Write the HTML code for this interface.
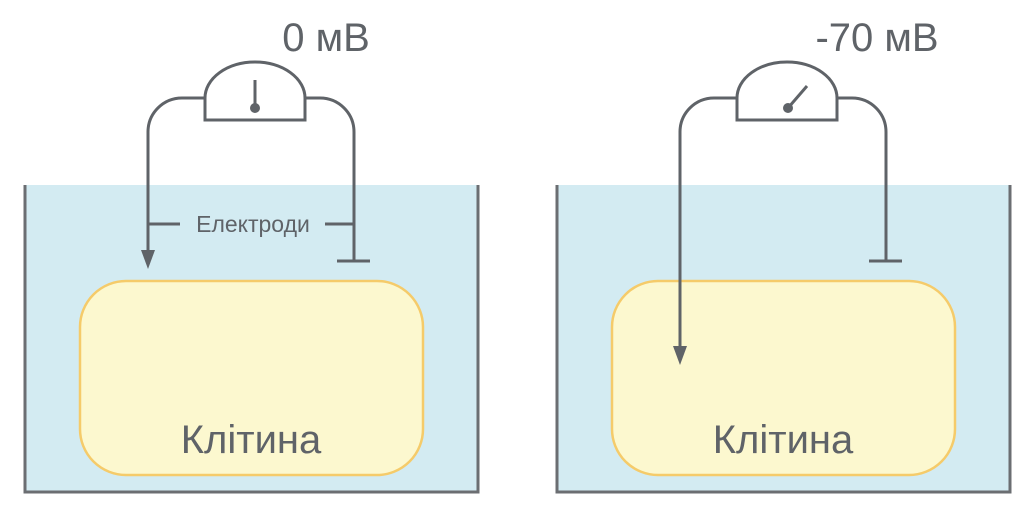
<!DOCTYPE html>
<html><head><meta charset="utf-8"><style>
html,body{margin:0;padding:0;background:#fff;width:1024px;height:506px;overflow:hidden}
text{font-family:"Liberation Sans",sans-serif;fill:#5f6368}
</style></head><body>
<svg width="1024" height="506" viewBox="0 0 1024 506" xmlns="http://www.w3.org/2000/svg">
<defs>
<g id="panel">
  <rect x="25" y="185" width="453" height="307" fill="#d3ebf2"/>
  <path d="M25 185 V492 H478 V185" fill="none" stroke="#6b6e72" stroke-width="3"/>
  <rect x="80" y="281" width="343" height="194" rx="46" fill="#fcf8cf" stroke="#f5cb6a" stroke-width="2.5"/>
  <text x="251" y="453" font-size="40" text-anchor="middle">Клітина</text>
  <path d="M205 120 V98 A50 36 0 0 1 305 98 V120 Z" fill="#fff" stroke="#5f6368" stroke-width="3"/>
  <path d="M305 98 H320 A34 34 0 0 1 354 132 V261" fill="none" stroke="#5f6368" stroke-width="3"/>
  <path d="M337 261 H370" stroke="#5f6368" stroke-width="3"/>
</g>
</defs>
<use href="#panel"/>
<use href="#panel" x="532"/>
<text x="326" y="51" font-size="40" text-anchor="middle">0 мВ</text>
<path d="M205 98 H182 A34 34 0 0 0 148 132 V252" fill="none" stroke="#5f6368" stroke-width="3"/>
<path d="M141 250 L155 250 L148 269 Z" fill="#5f6368"/>
<path d="M255 80 V108" stroke="#5f6368" stroke-width="3"/>
<circle cx="255" cy="108" r="5" fill="#5f6368"/>
<path d="M148 224 H180 M325 224 H354" stroke="#5f6368" stroke-width="3"/>
<text x="253" y="232" font-size="23" text-anchor="middle">Електроди</text>
<text x="877" y="51" font-size="40" text-anchor="middle">-70 мВ</text>
<path d="M737 98 H714 A34 34 0 0 0 680 132 V348" fill="none" stroke="#5f6368" stroke-width="3"/>
<path d="M673 346 L687 346 L680 365 Z" fill="#5f6368"/>
<path d="M788 108 L807 86" stroke="#5f6368" stroke-width="3"/>
<circle cx="788" cy="108" r="5" fill="#5f6368"/>
</svg>
</body></html>
